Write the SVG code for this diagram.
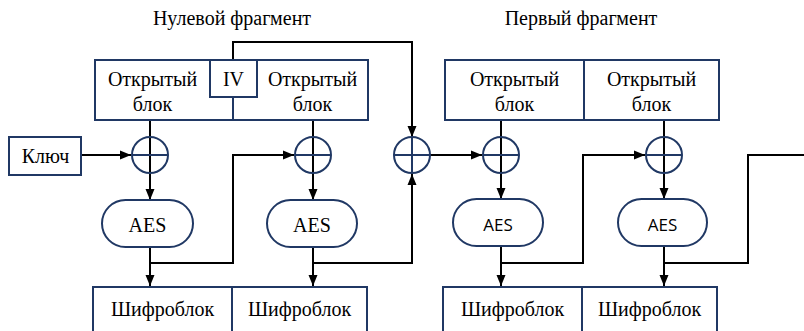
<svg xmlns="http://www.w3.org/2000/svg" width="804" height="331" viewBox="0 0 804 331" font-family="Liberation Serif, serif">
<style>
  .box{fill:#fff;stroke:#203864;stroke-width:2}
  .div{stroke:#203864;stroke-width:2;fill:none}
  .xor{fill:none;stroke:#203864;stroke-width:2}
  .t{font-size:20px;fill:#000;text-anchor:middle}
  .s{font-size:17px;fill:#000;text-anchor:middle}
  .c{fill:none;stroke:#000;stroke-width:2}
</style>
<defs>
  <marker id="ah" markerUnits="userSpaceOnUse" markerWidth="12" markerHeight="12" viewBox="0 0 12 12" refX="11" refY="6" orient="auto">
    <path d="M0,1.5 L11,6 L0,10.5 Z" fill="#000"/>
  </marker>
</defs>
<text class="t" font-family="Liberation Serif, serif" x="232" y="25">Нулевой фрагмент</text>
<text class="t" font-family="Liberation Serif, serif" x="581" y="25">Первый фрагмент</text>

<g id="connectors">
  <path class="c" d="M81,155 H131" marker-end="url(#ah)"/>
  <path class="c" d="M150,120 V200" marker-end="url(#ah)"/>
  <path class="c" d="M150,247 V286" marker-end="url(#ah)"/>
  <path class="c" d="M150,263 H233 V155 H294" marker-end="url(#ah)"/>
  <path class="c" d="M313,120 V200" marker-end="url(#ah)"/>
  <path class="c" d="M313,247 V286" marker-end="url(#ah)"/>
  <path class="c" d="M313,263 H412 V174" marker-end="url(#ah)"/>
  <path class="c" d="M233,60 V42 H412 V137" marker-end="url(#ah)"/>
  <path class="c" d="M430,155 H482" marker-end="url(#ah)"/>
  <path class="c" d="M501,120 V199" marker-end="url(#ah)"/>
  <path class="c" d="M501,246 V286" marker-end="url(#ah)"/>
  <path class="c" d="M501,263 H583 V155 H645" marker-end="url(#ah)"/>
  <path class="c" d="M664,120 V199" marker-end="url(#ah)"/>
  <path class="c" d="M664,246 V286" marker-end="url(#ah)"/>
  <path class="c" d="M664,263 H748 V155 H804"/>
</g>

<g id="plain0" font-family="Liberation Serif, serif">
  <rect class="box" x="95" y="60" width="273" height="60"/>
  <line class="div" x1="233" y1="97" x2="233" y2="120"/>
  <text class="t" x="152.5" y="86">Открытый</text>
  <text class="t" x="152.5" y="111">блок</text>
  <text class="t" x="312.5" y="86">Открытый</text>
  <text class="t" x="312.5" y="111">блок</text>
</g>
<g id="iv" font-family="Liberation Serif, serif">
  <rect class="box" x="210" y="60" width="47" height="37"/>
  <text class="t" x="233.5" y="86">IV</text>
</g>
<g id="plain1" font-family="Liberation Serif, serif">
  <rect class="box" x="445" y="60" width="274" height="60"/>
  <line class="div" x1="584" y1="60" x2="584" y2="120"/>
  <text class="t" x="514.5" y="86">Открытый</text>
  <text class="t" x="514.5" y="111">блок</text>
  <text class="t" x="651.5" y="86">Открытый</text>
  <text class="t" x="651.5" y="111">блок</text>
</g>
<g id="key" font-family="Liberation Serif, serif">
  <rect class="box" x="9" y="137" width="72" height="38"/>
  <text class="t" x="45.5" y="163">Ключ</text>
</g>

<g id="xor1"><circle class="xor" cx="150" cy="155" r="18"/><line class="div" x1="132" y1="155" x2="168" y2="155"/></g>
<g id="xor2"><circle class="xor" cx="313" cy="155" r="18"/><line class="div" x1="295" y1="155" x2="331" y2="155"/></g>
<g id="xor3"><circle class="xor" cx="412" cy="155" r="18"/><line class="div" x1="394" y1="155" x2="430" y2="155"/><line class="div" x1="412" y1="137" x2="412" y2="173"/></g>
<g id="xor4"><circle class="xor" cx="501" cy="155" r="18"/><line class="div" x1="483" y1="155" x2="519" y2="155"/></g>
<g id="xor5"><circle class="xor" cx="664" cy="155" r="18"/><line class="div" x1="646" y1="155" x2="682" y2="155"/></g>

<g id="aes1" font-family="Liberation Serif, serif"><rect class="box" x="102" y="200" width="91" height="47" rx="23.5"/><text class="t" x="147.5" y="232">AES</text></g>
<g id="aes2" font-family="Liberation Serif, serif"><rect class="box" x="267" y="200" width="90" height="47" rx="23.5"/><text class="t" x="312" y="232">AES</text></g>
<g id="aes3" font-family="Open Sans, sans-serif"><rect class="box" x="453" y="199" width="90" height="47" rx="23.5"/><text class="s" x="498" y="231">AES</text></g>
<g id="aes4" font-family="Open Sans, sans-serif"><rect class="box" x="618" y="199" width="89" height="47" rx="23.5"/><text class="s" x="662.5" y="231">AES</text></g>

<g id="cipher0" font-family="Liberation Serif, serif">
  <rect class="box" x="93" y="287" width="274" height="60"/>
  <line class="div" x1="232" y1="287" x2="232" y2="331"/>
  <text class="t" x="162.5" y="316">Шифроблок</text>
  <text class="t" x="299.5" y="316">Шифроблок</text>
</g>
<g id="cipher1" font-family="Liberation Serif, serif">
  <rect class="box" x="443" y="287" width="274" height="60"/>
  <line class="div" x1="582" y1="287" x2="582" y2="331"/>
  <text class="t" x="512.5" y="316">Шифроблок</text>
  <text class="t" x="649.5" y="316">Шифроблок</text>
</g>
</svg>
